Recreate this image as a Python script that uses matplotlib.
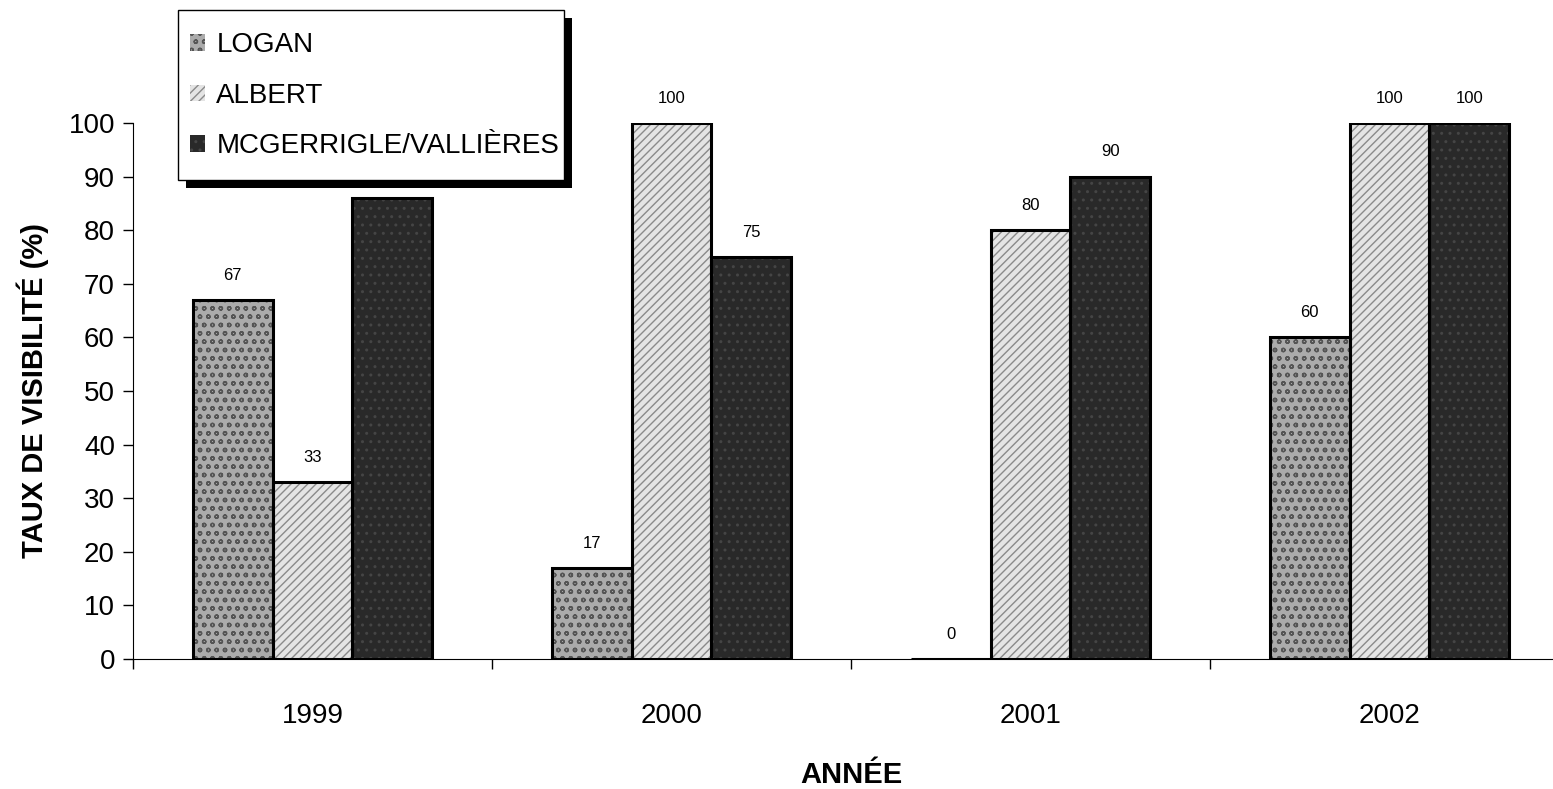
import matplotlib
matplotlib.use("Agg")
from matplotlib import pyplot as plt
import numpy as np

plt.rcParams['font.family'] = ['Liberation Sans', 'DejaVu Sans']

# data
years = ["1999", "2000", "2001", "2002"]
series = ["LOGAN", "ALBERT", "MCGERRIGLE/VALLIÈRES"]
logan = [67, 17, 0, 60]
albert = [33, 100, 80, 100]
mcgerrigle = [86, 75, 90, 100]
values = [logan, albert, mcgerrigle]

# styles: (face, hatch, hatch colour)
styles = [("#ababab", "oo", "#555555"),
          ("#e4e4e4", "////", "#8a8a8a"),
          ("#292929", "..", "#454545")]

W, H = 1553, 789
fig = plt.figure(figsize=(W / 100, H / 100), dpi=100)
ax = fig.add_axes([133/W, 130/H, 1436/W, 536/H])

x = np.arange(len(years))
width = 0.222
handles = []
for i, (name, vals, (fc, hatch, hc)) in enumerate(zip(series, values, styles)):
    pos = x + (i - 1) * width
    ax.bar(pos, vals, width, color=fc, hatch=hatch, edgecolor=hc, linewidth=0, zorder=2)
    ax.bar(pos, vals, width, fill=False, edgecolor="black", linewidth=2.2, zorder=3)
    handles.append(plt.Rectangle((0, 0), 1, 1, facecolor=fc, hatch=hatch,
                                 edgecolor=hc, linewidth=0))
    for p, v in zip(pos, vals):
        ax.text(p, v + 3.2, str(v), ha="center", va="bottom", fontsize=12, zorder=4)

ax.set_xlim(-0.5, len(years) - 0.5)
ax.set_ylim(0, 100)
ax.set_yticks(np.arange(0, 101, 10))
ax.tick_params(axis="y", labelsize=20, length=7, width=1, pad=6)

ax.set_xticks(np.arange(len(years) + 1) - 0.5)
ax.set_xticklabels([])
ax.tick_params(axis="x", which="major", length=7, width=1)
ax.set_xticks(x, minor=True)
ax.set_xticklabels(years, minor=True, fontsize=20)
ax.tick_params(axis="x", which="minor", length=0, pad=32)

for s in ["top", "right"]:
    ax.spines[s].set_visible(False)

ax.set_xlabel("ANNÉE", fontsize=21, fontweight="bold")
ax.xaxis.set_label_coords(0.5, -0.19)
ax.set_ylabel("TAUX DE VISIBILITÉ (%)", fontsize=21, fontweight="bold", labelpad=14)

leg = fig.legend(handles, series, loc="upper left",
                 bbox_to_anchor=(190/W, 1 - 32/H), borderaxespad=0, borderpad=0,
                 fontsize=20, frameon=False,
                 handlelength=0.55, handleheight=0.55, handletextpad=0.4,
                 labelspacing=0.89)
leg.set_zorder(11)

# legend box with black drop shadow, sized around the legend entries
fig.canvas.draw()
bb = leg.get_window_extent()
x0, x1 = bb.x0 - 12, bb.x1 + 5
y0, y1 = bb.y0 - 21, bb.y1 + 22
fig.patches.append(plt.Rectangle(((x0 + 8) / W, (y0 - 8) / H), (x1 - x0) / W, (y1 - y0) / H,
                                 transform=fig.transFigure, facecolor="black",
                                 edgecolor="none", zorder=9))
fig.patches.append(plt.Rectangle((x0 / W, y0 / H), (x1 - x0) / W, (y1 - y0) / H,
                                 transform=fig.transFigure, facecolor="white",
                                 edgecolor="black", linewidth=1, zorder=10))

fig.savefig("out.png", dpi=100)
